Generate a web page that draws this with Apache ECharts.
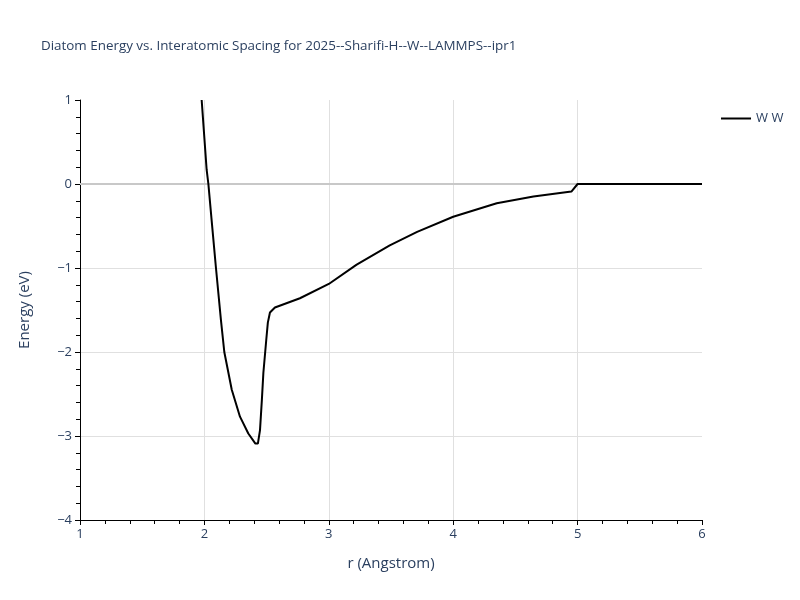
<!DOCTYPE html>
<html>
<head>
<meta charset="utf-8">
<script src="https://cdn.jsdelivr.net/npm/echarts@6/dist/echarts.min.js"></script>
<style>html,body{margin:0;padding:0;background:#fff;}#c{width:800px;height:600px;}</style>
</head>
<body>
<div id="c"></div>
<script>
const titleText = "Diatom Energy vs. Interatomic Spacing for 2025--Sharifi-H--W--LAMMPS--ipr1";
const seriesName = "W W";
const rValues = [1.978, 2.018, 2.032, 2.058, 2.093, 2.133, 2.16, 2.22, 2.286, 2.353, 2.41, 2.43, 2.447, 2.462, 2.474, 2.497, 2.51, 2.527, 2.567, 2.768, 3.0, 3.224, 3.49, 3.71, 4.0, 4.35, 4.645, 4.95, 5.0, 6.0];
const energyValues = [1.0, 0.17, 0.0, -0.43, -1.0, -1.62, -2.0, -2.45, -2.77, -2.97, -3.09, -3.09, -2.93, -2.57, -2.25, -1.86, -1.65, -1.53, -1.47, -1.36, -1.19, -0.96, -0.73, -0.57, -0.39, -0.23, -0.15, -0.09, 0.0, 0.0];
const xTicks = [1, 2, 3, 4, 5, 6];
const yTicks = [-4, -3, -2, -1, 0, 1];

const textColor = '#2a3f5f';
const font = '"Open Sans", Verdana, Arial, sans-serif';
const chart = echarts.init(document.getElementById('c'), null, {renderer: 'canvas'});
chart.setOption({
  backgroundColor: '#fff',
  animation: false,
  title: {
    text: titleText, left: 36, top: 35,
    textStyle: {color: textColor, fontSize: 13.4, fontWeight: 'normal', fontFamily: font}
  },
  legend: {
    data: [seriesName], left: 716, top: 107, orient: 'vertical',
    itemWidth: 30, itemHeight: 2, itemGap: 8,
    icon: 'rect',
    textStyle: {color: textColor, fontSize: 13, fontFamily: font}
  },
  grid: {left: 80, right: 98, top: 100, bottom: 80},
  xAxis: {
    type: 'value', min: xTicks[0], max: xTicks[xTicks.length - 1], interval: 1,
    name: 'r (Angstrom)', nameLocation: 'middle', nameGap: 36,
    nameTextStyle: {color: textColor, fontSize: 15, fontFamily: font},
    axisLine: {show: true, onZero: false, lineStyle: {color: '#000', width: 1}},
    axisTick: {show: true, length: 5, lineStyle: {color: '#000'}},
    minorTick: {show: true, splitNumber: 5, length: 4, lineStyle: {color: '#000'}},
    axisLabel: {color: textColor, fontSize: 13, fontFamily: font, margin: 8},
    splitLine: {show: true, showMinLine: false, showMaxLine: false, lineStyle: {color: '#e0e0e0', width: 1}}
  },
  yAxis: {
    type: 'value', min: yTicks[0], max: yTicks[yTicks.length - 1], interval: 1,
    name: 'Energy (eV)', nameLocation: 'middle', nameGap: 48,
    nameTextStyle: {color: textColor, fontSize: 15, fontFamily: font},
    axisLine: {show: true, onZero: false, lineStyle: {color: '#000', width: 1}},
    axisTick: {show: true, length: 5, lineStyle: {color: '#000'}},
    minorTick: {show: true, splitNumber: 5, length: 4, lineStyle: {color: '#000'}},
    axisLabel: {color: textColor, fontSize: 13, fontFamily: font, margin: 8,
      formatter: v => (v < 0 ? '\u2212' + Math.abs(v) : String(v))},
    splitLine: {show: true, showMinLine: false, showMaxLine: false, lineStyle: {color: '#e0e0e0', width: 1}}
  },
  series: [{
    name: seriesName, type: 'line',
    data: rValues.map((r, i) => [r, energyValues[i]]),
    showSymbol: false, symbol: 'none',
    lineStyle: {color: '#000', width: 2},
    itemStyle: {color: '#000'},
    z: 5,
    markLine: {
      silent: true, symbol: 'none', label: {show: false},
      lineStyle: {color: '#c8c8c8', width: 2, type: 'solid'},
      data: [{yAxis: 0}], z: 1
    }
  }]
});
</script>
</body>
</html>
